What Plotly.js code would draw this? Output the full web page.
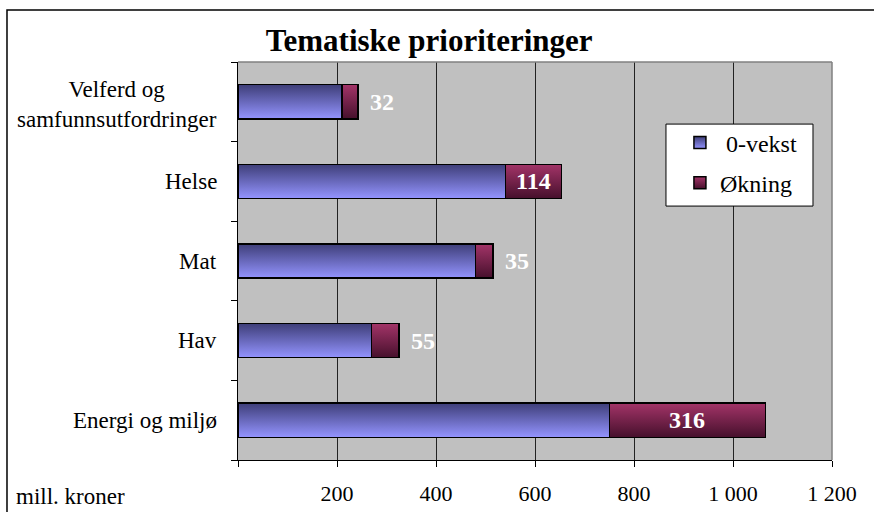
<!DOCTYPE html>
<html>
<head>
<meta charset="utf-8">
<script src="https://cdn.plot.ly/plotly-3.0.1.min.js"></script>
<style>
html,body{margin:0;padding:0;background:#fff;}
#chart{width:874px;height:512px;}
</style>
</head>
<body>
<div id="chart"></div>
<script>
// Data (bottom to top on the chart)
const categories = ["Energi og miljø", "Hav", "Mat", "Helse", "Velferd og samfunnsutfordringer"];
const categoryLabels = ["Energi og miljø", "Hav", "Mat", "Helse", "Velferd og<br>samfunnsutfordringer"];
const nullvekst = [750, 270, 480, 540, 210];
const okning = [316, 55, 35, 114, 32];
const seriesNames = ["\u00a00-vekst", "Økning"];
const xTickVals = [0, 200, 400, 600, 800, 1000, 1200];
const xTickText = ["", "200", "400", "600", "800", "1 000", "1 200"];

const SERIF = "Liberation Serif";

const traces = [
  {
    type: "bar", orientation: "h", name: seriesNames[0],
    y: categories, x: nullvekst, legendgroup: "a",
    marker: {color: "#6a6ac0", line: {color: "#000", width: 1.5}},
    hoverinfo: "skip"
  },
  {
    type: "bar", orientation: "h", name: seriesNames[1],
    y: categories, x: okning, legendgroup: "b",
    marker: {color: "#7a2050", line: {color: "#000", width: 1.5}},
    hoverinfo: "skip"
  }
];

const annotations = [];
categories.forEach((c, i) => {
  const multi = categoryLabels[i].indexOf("<br>") >= 0;
  annotations.push({
    xref: "paper", yref: "y", x: -0.032, y: c, xanchor: "right", yanchor: "middle",
    yshift: multi ? -3 : 0,
    text: categoryLabels[i], showarrow: false, align: "center",
    font: {family: SERIF, size: 23, color: "#000"}
  });
  const inside = okning[i] >= 100;
  annotations.push({
    xref: "x", yref: "y",
    x: inside ? nullvekst[i] + okning[i] / 2 : nullvekst[i] + okning[i],
    y: c, xanchor: inside ? "center" : "left", yanchor: "middle",
    xshift: inside ? 0 : 10,
    text: "<b>" + okning[i] + "</b>", showarrow: false,
    font: {family: SERIF, size: 24, color: "#fff"}
  });
});
annotations.push({
  xref: "paper", yref: "paper", x: -0.377, y: -0.0905, xanchor: "left", yanchor: "middle",
  text: "mill. kroner", showarrow: false,
  font: {family: SERIF, size: 23, color: "#000"}
});

const layout = {
  width: 874, height: 512,
  margin: {l: 238, r: 42, t: 62, b: 52},
  paper_bgcolor: "#fff", plot_bgcolor: "#c0c0c0",
  barmode: "stack", bargap: 0.57,
  showlegend: true,
  font: {family: SERIF},
  title: {
    text: "<b>Tematiske prioriteringer</b>",
    x: 0.491, xref: "container", xanchor: "center",
    y: 0.922, yref: "container", yanchor: "middle",
    font: {family: SERIF, size: 31, color: "#000"}
  },
  xaxis: {
    range: [0, 1200], tickvals: xTickVals, ticktext: xTickText,
    ticks: "outside", ticklen: 6, tickcolor: "#000", tickwidth: 1,
    showline: true, linecolor: "#000", linewidth: 1,
    showgrid: true, gridcolor: "#222", gridwidth: 1, zeroline: false,
    ticklabelstandoff: 8,
    tickfont: {family: SERIF, size: 22, color: "#000"},
    fixedrange: true
  },
  yaxis: {
    type: "category", categoryorder: "array", categoryarray: categories,
    range: [-0.5, 4.5], tickson: "boundaries",
    ticks: "outside", ticklen: 6, tickcolor: "#000", tickwidth: 1,
    showticklabels: false, showgrid: false, zeroline: false,
    showline: true, linecolor: "#000", linewidth: 1,
    fixedrange: true
  },
  legend: {
    x: 0.744, y: 0.853, xanchor: "left", yanchor: "top",
    bgcolor: "rgba(0,0,0,0)", borderwidth: 0,
    traceorder: "grouped", tracegroupgap: 6,
    font: {family: SERIF, size: 24, color: "#000"}
  },
  annotations: annotations,
  shapes: [
    {type: "rect", xref: "paper", yref: "paper", x0: 0.7205, x1: 0.968, y0: 0.638, y1: 0.844,
     fillcolor: "#fff", line: {color: "#000", width: 1}, layer: "above"},
    {type: "line", xref: "paper", yref: "paper", x0: 0, x1: 1, y0: 1, y1: 1,
     line: {color: "#808080", width: 1.5}, layer: "above"},
    {type: "line", xref: "paper", yref: "paper", x0: 1, x1: 1, y0: 0, y1: 1,
     line: {color: "#808080", width: 1.5}, layer: "above"},
    {type: "rect", xref: "paper", yref: "paper", x0: -0.3889, x1: 1.2, y0: -0.2, y1: 1.1307,
     line: {color: "#000", width: 1.5}, layer: "above"}
  ]
};

const gd = document.getElementById("chart");
Plotly.newPlot(gd, traces, layout, {staticPlot: true, displayModeBar: false}).then(() => {
  const NS = "http://www.w3.org/2000/svg";
  const defs = gd.querySelector("svg.main-svg defs");
  function grad(id, c1, c2) {
    const g = document.createElementNS(NS, "linearGradient");
    g.setAttribute("id", id);
    g.setAttribute("x1", "0"); g.setAttribute("y1", "0");
    g.setAttribute("x2", "0"); g.setAttribute("y2", "1");
    const s1 = document.createElementNS(NS, "stop");
    s1.setAttribute("offset", "0"); s1.setAttribute("stop-color", c1);
    const s2 = document.createElementNS(NS, "stop");
    s2.setAttribute("offset", "1"); s2.setAttribute("stop-color", c2);
    g.appendChild(s1); g.appendChild(s2);
    defs.appendChild(g);
  }
  grad("gBlue", "#3e3e78", "#9494ff");
  grad("gRed", "#a33468", "#46102c");
  const ids = ["gBlue", "gRed"];
  gd.querySelectorAll(".barlayer .trace").forEach((t, i) => {
    t.querySelectorAll("path").forEach(p => { p.style.fill = "url(#" + ids[i] + ")"; });
  });
  gd.querySelectorAll(".legend .traces").forEach((t, i) => {
    t.querySelectorAll(".legendpoints path").forEach(p => { p.style.fill = "url(#" + ids[i] + ")"; });
  });
});
</script>
</body>
</html>
